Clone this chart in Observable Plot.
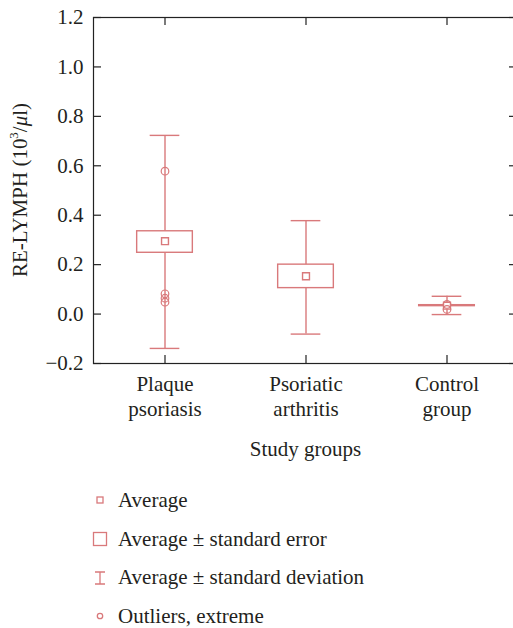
<!DOCTYPE html>
<html>
<head>
<meta charset="utf-8">
<script src="https://cdn.jsdelivr.net/npm/d3@7"></script>
<script src="https://cdn.jsdelivr.net/npm/@observablehq/plot@0.6"></script>
<style>
  html, body { margin: 0; padding: 0; background: #fff; overflow: hidden; }
  body { width: 513px; height: 628px; font-family: "Liberation Serif", "Times New Roman", "DejaVu Serif", serif; color: #231f20; }
  #chart svg, #chart svg text { font-family: "Liberation Serif", "Times New Roman", "DejaVu Serif", serif !important; }
  #legend { padding-top: 21px; padding-left: 92px; }
  .row { display: flex; align-items: center; height: 38.7px; font-size: 21px; }
  .row svg { width: 16px; height: 16px; margin-right: 10px; flex: none; }
</style>
</head>
<body>
<div id="chart"></div>
<div id="legend"></div>
<script>
const groups = ["Plaque psoriasis", "Psoriatic arthritis", "Control group"];
const groupLabels = ["Plaque\npsoriasis", "Psoriatic\narthritis", "Control\ngroup"];
const means = [0.295, 0.153, 0.034];
const seLow = [0.248, 0.105, 0.032];
const seHigh = [0.335, 0.200, 0.036];
const sdLow = [-0.139, -0.081, -0.002];
const sdHigh = [0.723, 0.378, 0.072];
const outlierGroups = ["Plaque psoriasis", "Plaque psoriasis", "Plaque psoriasis", "Plaque psoriasis", "Control group", "Control group"];
const outlierValues = [0.578, 0.082, 0.064, 0.048, 0.039, 0.019];
const yTicks = [-0.2, 0, 0.2, 0.4, 0.6, 0.8, 1.0, 1.2];
const legendItems = ["Average", "Average ± standard error", "Average ± standard deviation", "Outliers, extreme"];

const color = "#d9797b";
const W = 513, H = 460, mL = 93, mT = 17, mR = -4, mB = 97;
const innerW = W - mL - mR, innerH = H - mT - mB;
const step = innerW / groups.length;

const stats = groups.map((g, i) => ({g, mean: means[i], seLow: seLow[i], seHigh: seHigh[i], sdLow: sdLow[i], sdHigh: sdHigh[i]}));
const outliers = outlierGroups.map((g, i) => ({g, v: outlierValues[i]}));
const labelOf = Object.fromEntries(groups.map((g, i) => [g, groupLabels[i]]));

const boxInset = (step - 56) / 2;
const capInset = (step - 30) / 2;

const chart = Plot.plot({
  width: W, height: H,
  marginLeft: mL, marginTop: mT, marginRight: mR, marginBottom: mB,
  style: {fontFamily: '"Liberation Serif", serif', fontSize: "21px", color: "#231f20", overflow: "visible"},
  x: {domain: groups, padding: 0, label: null},
  y: {domain: [-0.2, 1.2], label: null},
  marks: [
    Plot.axisY({ticks: yTicks, tickFormat: d3.format(".1f"), tickSize: 0, tickPadding: 10, fontSize: 21, label: null}),
    Plot.axisX({tickSize: 0, tickPadding: 10, tickFormat: d => labelOf[d], lineHeight: 1.18, fontSize: 21, label: "Study groups", labelAnchor: "center", labelOffset: 92}),
    Plot.ruleX(groups, {x: d => d, insetTop: innerH - 8, stroke: "#222", strokeWidth: 1.2}),
    Plot.ruleX(groups, {x: d => d, insetBottom: innerH - 8, stroke: "#222", strokeWidth: 1.2}),
    Plot.ruleY(yTicks, {y: d => d, insetRight: innerW - 8, stroke: "#222", strokeWidth: 1.2}),
    Plot.ruleY(yTicks, {y: d => d, insetLeft: innerW - 8, stroke: "#222", strokeWidth: 1.2}),
    Plot.ruleX(stats, {x: "g", y1: "sdLow", y2: "sdHigh", stroke: color, strokeWidth: 1.4}),
    Plot.tickY(stats, {x: "g", y: "sdHigh", insetLeft: capInset, insetRight: capInset, stroke: color, strokeWidth: 1.4}),
    Plot.tickY(stats, {x: "g", y: "sdLow", insetLeft: capInset, insetRight: capInset, stroke: color, strokeWidth: 1.4}),
    Plot.barY(stats, {x: "g", y1: "seLow", y2: "seHigh", insetLeft: boxInset, insetRight: boxInset, fill: "white", stroke: color, strokeWidth: 1.4}),
    Plot.dot(stats, {x: "g", y: "mean", symbol: "square", r: 3.9, fill: "white", stroke: color, strokeWidth: 1.4}),
    Plot.dot(outliers, {x: "g", y: "v", r: 3.8, fill: "none", stroke: color, strokeWidth: 1.2}),
    Plot.frame({stroke: "#222", strokeWidth: 1.2})
  ]
});

// y axis title with superscript and italic mu
const svg = d3.select(chart);
const t = svg.append("text")
  .attr("transform", `translate(27,${mT + innerH / 2}) rotate(-90)`)
  .attr("text-anchor", "middle")
  .attr("font-size", 21)
  .attr("fill", "#231f20");
t.append("tspan").text("RE-LYMPH (10");
t.append("tspan").attr("font-size", 13).attr("dy", -9).text("3");
t.append("tspan").attr("dy", 9).text("/");
t.append("tspan").attr("font-style", "italic").text("μ");
t.append("tspan").text("l)");

document.getElementById("chart").appendChild(chart);

// legend
const icons = [
  `<rect x="5" y="5" width="6" height="6" fill="none" stroke="${color}" stroke-width="1.3"/>`,
  `<rect x="1.5" y="1.5" width="13" height="13" fill="none" stroke="${color}" stroke-width="1.3"/>`,
  `<path d="M3,2H13M8,2V14M3,14H13" fill="none" stroke="${color}" stroke-width="1.3"/>`,
  `<circle cx="8" cy="8" r="2.7" fill="none" stroke="${color}" stroke-width="1.3"/>`
];
const legend = document.getElementById("legend");
legendItems.forEach((txt, i) => {
  const row = document.createElement("div");
  row.className = "row";
  row.innerHTML = `<svg viewBox="0 0 16 16">${icons[i]}</svg><span>${txt}</span>`;
  legend.appendChild(row);
});
</script>
</body>
</html>
